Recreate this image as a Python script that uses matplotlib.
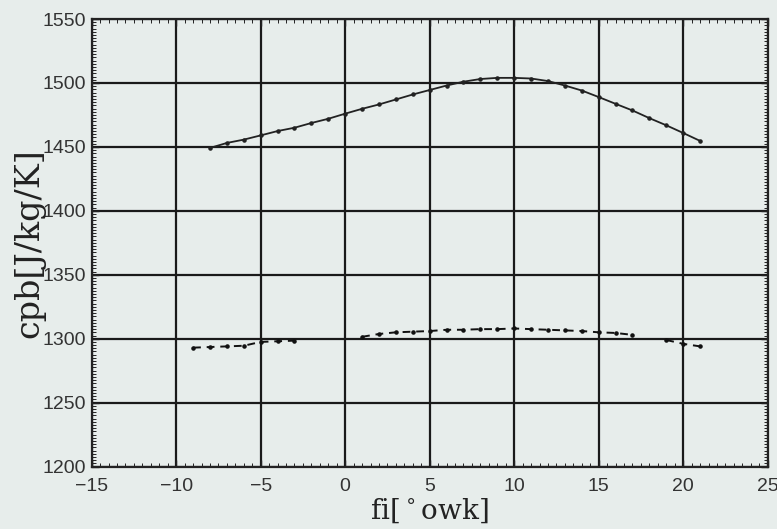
"""cpb vs crank angle, recreated from a scanned figure."""

import matplotlib
matplotlib.use("Agg")
import matplotlib.pyplot as plt
import numpy as np
from matplotlib.ticker import MultipleLocator

# upper curve: one point per degree
fi_upper = list(range(-8, 22))
cpb_upper = [1449.2, 1453.1, 1455.7, 1459.0, 1462.4, 1465.0, 1468.7, 1472.0,
             1476.0, 1479.8, 1483.2, 1487.1, 1491.0, 1494.5, 1498.0, 1501.0,
             1503.1, 1504.0, 1504.0, 1503.5, 1501.5, 1498.0, 1494.1, 1489.0,
             1483.7, 1478.5, 1472.5, 1466.9, 1460.9, 1454.7]

# lower curve, with gaps where the scan shows nothing
fi_lower = [-9, -8, -7, -6, -5, -4, -3, -2, -1, 0,
            1, 2, 3, 4, 5, 6, 7, 8, 9, 10, 11, 12, 13, 14, 15, 16, 17, 18,
            19, 20, 21]
cpb_lower = [1293.0, 1293.5, 1294.0, 1294.5, 1297.5, 1298.0, 1298.5, None, None, None,
             1301.5, 1303.7, 1305.0, 1305.5, 1306.0, 1307.0, 1307.0, 1307.5, 1307.5,
             1308.0, 1307.5, 1307.0, 1306.5, 1306.0, 1305.0, 1304.5, 1303.0, None,
             1299.0, 1296.0, 1294.0]

BG = "#e7edeb"


def main():
    fig = plt.figure(figsize=(7.77, 5.29), dpi=100, facecolor=BG)
    ax = fig.add_axes([0.118, 0.118, 0.870, 0.846], facecolor=BG)

    ax.plot(fi_upper, cpb_upper, "-", color="#222222", lw=1.3,
            marker=".", ms=4.5)
    yl = np.array([np.nan if v is None else v for v in cpb_lower])
    ax.plot(fi_lower, yl, color="#111111", lw=1.4, ls=(0, (4, 3)),
            marker=".", ms=4.5)

    ax.set_xlim(-15, 25)
    ax.set_ylim(1200, 1550)
    ax.xaxis.set_major_locator(MultipleLocator(5))
    ax.xaxis.set_minor_locator(MultipleLocator(0.5))
    ax.yaxis.set_major_locator(MultipleLocator(50))
    ax.yaxis.set_minor_locator(MultipleLocator(2.5))
    ax.tick_params(which="both", direction="in", top=True, right=True,
                   colors="#222222")
    ax.tick_params(which="major", length=5, width=1.0, labelsize=14,
                   labelcolor="#333333", pad=4)
    ax.tick_params(axis="x", which="major", pad=8)
    ax.tick_params(which="minor", length=3, width=0.7)
    for lab in ax.get_xticklabels() + ax.get_yticklabels():
        lab.set_family("Liberation Sans")

    ax.grid(True, which="major", color="#1a1a1a", lw=1.6, ls="-")
    for s in ax.spines.values():
        s.set_color("#222222")
        s.set_linewidth(1.6)

    ax.set_xlabel("fi[$^\\circ$owk]", family="DejaVu Serif", fontsize=20,
                  color="#222222", labelpad=1)
    ax.set_ylabel("cpb[J/kg/K]", family="DejaVu Serif", fontsize=24,
                  color="#222222", labelpad=-2)

    fig.savefig("out.png", dpi=100, facecolor=BG)
    plt.close(fig)


if __name__ == "__main__":
    main()
